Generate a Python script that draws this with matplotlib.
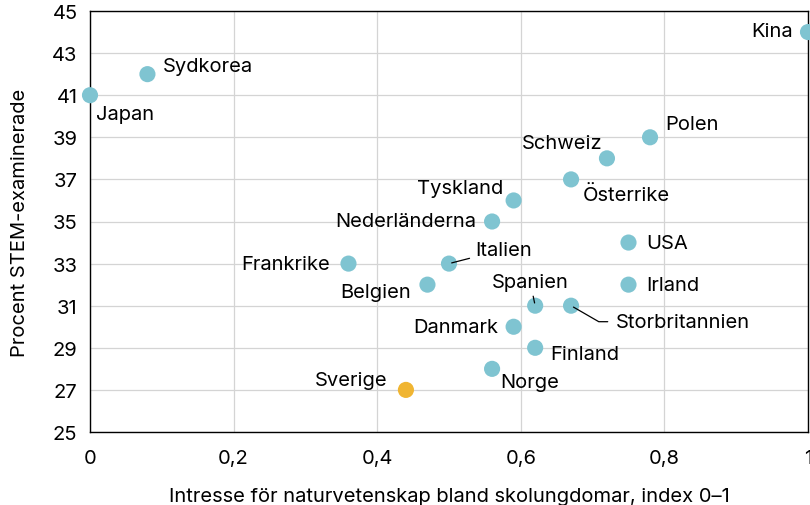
import matplotlib.pyplot as plt
from matplotlib.ticker import FuncFormatter

# Data
countries = ['Japan', 'Sydkorea', 'Kina', 'Polen', 'Schweiz', 'Österrike', 'Tyskland',
             'Nederländerna', 'USA', 'Italien', 'Frankrike', 'Belgien', 'Irland',
             'Spanien', 'Storbritannien', 'Danmark', 'Finland', 'Norge', 'Sverige']
interest = [0.0, 0.08, 1.0, 0.78, 0.72, 0.67, 0.59, 0.56, 0.75, 0.50, 0.36, 0.47, 0.75,
            0.62, 0.67, 0.59, 0.62, 0.56, 0.44]
stem = [41, 42, 44, 39, 38, 37, 36, 35, 34, 33, 33, 32, 32, 31, 31, 30, 29, 28, 27]

# Label placement: (dx, dy in pixels, ha, leader)
label_pos = {
    'Japan': (6, -19, 'left', None),
    'Sydkorea': (15, 8, 'left', None),
    'Kina': (-15, 1, 'right', None),
    'Polen': (15, 13, 'left', None),
    'Schweiz': (-5, 15, 'right', None),
    'Österrike': (12, -15, 'left', None),
    'Tyskland': (-10, 12, 'right', None),
    'Nederländerna': (-16, 0, 'right', None),
    'USA': (18, 0, 'left', None),
    'Italien': (26, 14, 'left', 'straight'),
    'Frankrike': (-18, 0, 'right', None),
    'Belgien': (-16, -7, 'right', None),
    'Irland': (18, 0, 'left', None),
    'Spanien': (-5, 24, 'center', 'straight'),
    'Storbritannien': (45, -16, 'left', 'elbow'),
    'Danmark': (-15, 0, 'right', None),
    'Finland': (15, -6, 'left', None),
    'Norge': (8, -13, 'left', None),
    'Sverige': (-18, 10, 'right', None),
}

teal = '#7fc4d1'
orange = '#f0b532'
fs = 14.5

plt.rcParams['font.family'] = ['Inter', 'DejaVu Sans']

fig = plt.figure(figsize=(8.1, 5.06), dpi=100)
ax = fig.add_axes([90 / 810, 1 - 433 / 506, 718 / 810, 421 / 506])

colors = [orange if c == 'Sverige' else teal for c in countries]
ax.scatter(interest, stem, s=135, c=colors, zorder=3, clip_on=False, linewidths=0)

for name, x, y in zip(countries, interest, stem):
    dx, dy, ha, leader = label_pos[name]
    arrow = None
    if leader == 'straight':
        arrow = dict(arrowstyle='-', color='black', lw=0.9, shrinkA=2, shrinkB=2)
    elif leader == 'elbow':
        arrow = dict(arrowstyle='-', color='black', lw=0.9, shrinkA=4, shrinkB=2,
                     connectionstyle='angle,angleA=0,angleB=-30,rad=0')
    ax.annotate(name, (x, y), xytext=(dx, dy), textcoords='offset pixels',
                ha=ha, va='center', fontsize=fs, arrowprops=arrow, zorder=4)

ax.set_xlim(0, 1)
ax.set_ylim(25, 45)
ax.set_xticks([0, 0.2, 0.4, 0.6, 0.8, 1.0])
ax.set_yticks(range(25, 46, 2))
ax.xaxis.set_major_formatter(FuncFormatter(lambda v, p: ('%g' % round(v, 1)).replace('.', ',')))
ax.tick_params(length=0, labelsize=fs, pad=12)
ax.tick_params(axis='y', pad=9)
ax.grid(True, color='#d4d4d4', lw=0.9)
ax.set_axisbelow(True)
for s in ax.spines.values():
    s.set_color('black')
    s.set_linewidth(1)

ax.set_xlabel('Intresse för naturvetenskap bland skolungdomar, index 0–1', fontsize=fs, labelpad=15)
ax.set_ylabel('Procent STEM-examinerade', fontsize=fs, labelpad=17)

fig.savefig('out.png', dpi=100)
